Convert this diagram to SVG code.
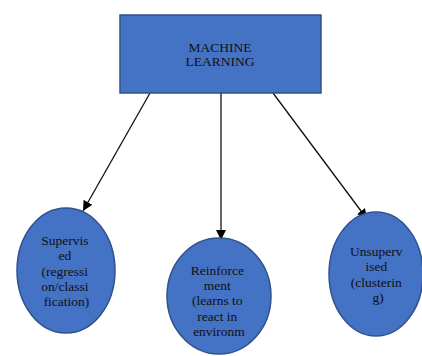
<svg xmlns="http://www.w3.org/2000/svg" width="422" height="356" viewBox="0 0 422 356">
  <style>
    .shape { fill: #4472c4; stroke: #2f528f; stroke-width: 1.5; }
    .label { font-family: "Liberation Serif", "Times New Roman", serif; font-size: 13.5px; fill: #111; text-anchor: middle; }
    .edge { stroke: #111; stroke-width: 1.3; fill: none; marker-end: url(#arrow); }
  </style>
  <defs>
    <marker id="arrow" viewBox="0 0 10 10" refX="10" refY="5" markerWidth="10" markerHeight="10" markerUnits="userSpaceOnUse" orient="auto">
      <path d="M0,0 L10,5 L0,10 z" fill="#000"/>
    </marker>
  </defs>
  <rect width="422" height="356" fill="#fff"/>

  <g id="connectors">
    <line class="edge" x1="150" y1="93" x2="83" y2="211"/>
    <line class="edge" x1="221" y1="93" x2="221" y2="240"/>
    <line class="edge" x1="273" y1="93" x2="367" y2="219"/>
  </g>

  <g id="machine-learning">
    <rect class="shape" x="120" y="15" width="201" height="78"/>
    <text class="label"><tspan x="220" y="51.5">MACHINE</tspan><tspan x="220" y="66">LEARNING</tspan></text>
  </g>

  <g id="supervised">
    <ellipse class="shape" cx="66" cy="270.5" rx="49" ry="62.5"/>
    <text class="label">
      <tspan x="66.5" y="245">Supervis</tspan>
      <tspan x="66.5" y="260.3">ed</tspan>
      <tspan x="66.5" y="275.6">(regressi</tspan>
      <tspan x="66.5" y="290.9">on/classi</tspan>
      <tspan x="66.5" y="306.2">fication)</tspan>
    </text>
  </g>

  <g id="reinforcement">
    <ellipse class="shape" cx="219" cy="296" rx="52" ry="58"/>
    <text class="label">
      <tspan x="219" y="274.5">Reinforce</tspan>
      <tspan x="219" y="289.9">ment</tspan>
      <tspan x="219" y="305.3">(learns to</tspan>
      <tspan x="219" y="320.7">react in</tspan>
      <tspan x="219" y="336.1">environm</tspan>
    </text>
  </g>

  <g id="unsupervised">
    <ellipse class="shape" cx="376" cy="274" rx="47" ry="62"/>
    <text class="label">
      <tspan x="378" y="256">Unsuperv</tspan>
      <tspan x="378" y="271.3">ised</tspan>
      <tspan x="378" y="286.6">(clusterin</tspan>
      <tspan x="378" y="301.9">g)</tspan>
    </text>
  </g>
</svg>
